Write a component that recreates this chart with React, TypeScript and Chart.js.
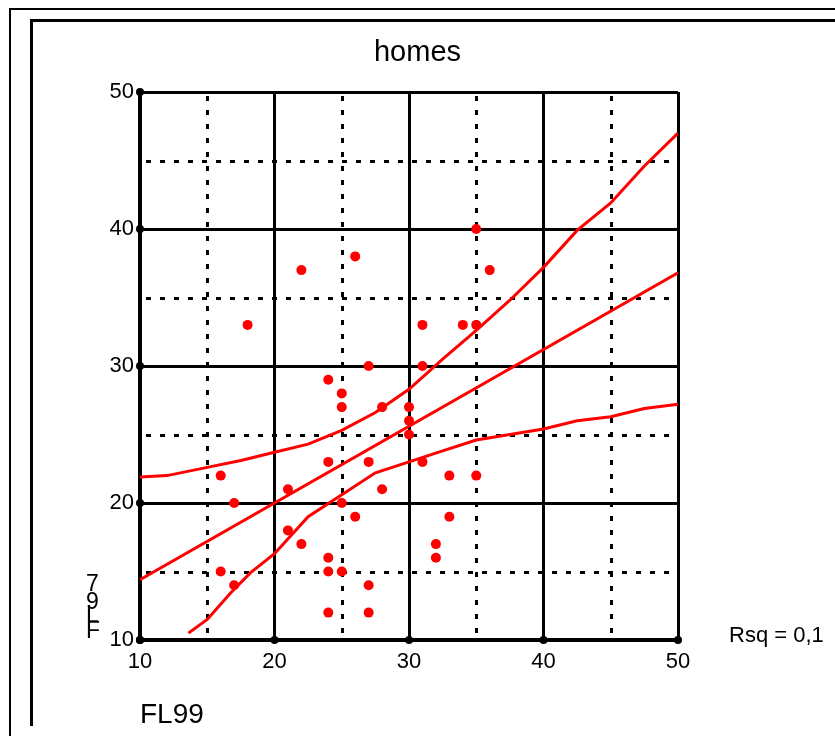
import React, { useEffect, useRef } from 'react';
import { Chart, registerables } from 'chart.js';

Chart.register(...registerables);

// ---- data ----
const chartTitle = 'homes';
const xTitle = 'FL99';
const yTitleChars = ['7', '9', 'L', 'F'];
const rsqText = 'Rsq = 0,1';

const fl99 = [35, 36, 22, 26, 18, 31, 34, 35, 27, 31, 24, 25, 25, 28, 30, 30, 30, 24, 27, 31, 33, 35, 16, 21, 28, 17, 25, 26, 33, 21, 22, 32, 32, 24, 24, 25, 16, 17, 27, 24, 27];
const fl97 = [40, 37, 37, 38, 33, 33, 33, 33, 30, 30, 29, 28, 27, 27, 27, 26, 25, 23, 23, 23, 22, 22, 22, 21, 21, 20, 20, 19, 19, 18, 17, 17, 16, 16, 15, 15, 15, 14, 14, 12, 12];

const fitX = [10, 50];
const fitY = [14.4, 36.8];

const upperX = [10, 12, 15, 17.5, 20, 22.5, 25, 27.5, 30, 32.5, 35, 37.5, 40, 42.5, 45, 47.5, 50];
const upperY = [21.9, 22.0, 22.6, 23.1, 23.7, 24.3, 25.3, 26.6, 28.3, 30.5, 32.6, 34.8, 37.2, 39.9, 41.9, 44.6, 47.0];

const lowerX = [13.6, 15, 16.7, 18.2, 20, 22.5, 25, 27.5, 30, 32.5, 35, 37.5, 40, 42.5, 45, 47.5, 50];
const lowerY = [10.5, 11.5, 13.4, 14.9, 16.3, 19.0, 20.6, 22.2, 23.0, 23.8, 24.6, 25.0, 25.4, 26.0, 26.3, 26.9, 27.2];

const majorTicks = [10, 20, 30, 40, 50];
const minorTicks = [15, 25, 35, 45];

const FONT = 'Liberation Sans, Arial, sans-serif';

const pairs = (xs: number[], ys: number[]) => xs.map((x, i) => ({ x, y: ys[i] }));

const decorPlugin = {
  id: 'decor',
  beforeDraw(chart: any) {
    const { ctx, width, height } = chart;
    ctx.save();
    ctx.fillStyle = '#fff';
    ctx.fillRect(0, 0, width, height);
    ctx.strokeStyle = '#000';
    ctx.lineWidth = 2;
    ctx.beginPath();
    ctx.moveTo(10, height + 5);
    ctx.lineTo(10, 9);
    ctx.lineTo(width + 5, 9);
    ctx.stroke();
    ctx.lineWidth = 3;
    ctx.beginPath();
    ctx.moveTo(31.5, 726);
    ctx.lineTo(31.5, 20.5);
    ctx.lineTo(width + 5, 20.5);
    ctx.stroke();
    ctx.restore();
  },
  beforeDatasetsDraw(chart: any) {
    const { ctx, chartArea, scales } = chart;
    const xs = scales.x, ys = scales.y;
    ctx.save();
    ctx.strokeStyle = '#000';
    ctx.lineWidth = 3;
    ctx.setLineDash([5, 9]);
    minorTicks.forEach((v) => {
      const px = Math.round(xs.getPixelForValue(v)) + 0.5;
      ctx.beginPath();
      ctx.moveTo(px, chartArea.top + 4);
      ctx.lineTo(px, chartArea.bottom);
      ctx.stroke();
      const py = Math.round(ys.getPixelForValue(v)) + 0.5;
      ctx.beginPath();
      ctx.moveTo(chartArea.left + 6, py);
      ctx.lineTo(chartArea.right, py);
      ctx.stroke();
    });
    ctx.restore();
  },
  afterDraw(chart: any) {
    const { ctx, chartArea, scales } = chart;
    const xs = scales.x, ys = scales.y;
    ctx.save();
    ctx.fillStyle = '#000';
    majorTicks.forEach((v) => {
      ctx.beginPath();
      ctx.arc(xs.getPixelForValue(v), chartArea.bottom, 4, 0, Math.PI * 2);
      ctx.fill();
      ctx.beginPath();
      ctx.arc(chartArea.left, ys.getPixelForValue(v), 4, 0, Math.PI * 2);
      ctx.fill();
    });
    ctx.font = `23px ${FONT}`;
    ctx.textAlign = 'left';
    ctx.textBaseline = 'alphabetic';
    const baselines = [591, 609, 622, 638];
    yTitleChars.forEach((c, i) => ctx.fillText(c, 86, baselines[i]));
    ctx.font = `22px ${FONT}`;
    ctx.textBaseline = 'middle';
    ctx.fillText(rsqText, 729, chartArea.bottom - 4);
    ctx.restore();
  },
};

export default function App() {
  const ref = useRef<HTMLCanvasElement>(null);
  useEffect(() => {
    document.body.style.margin = '0';
    const canvas = ref.current!;
    const chart = new Chart(canvas, {
      type: 'scatter',
      data: {
        datasets: [
          {
            label: 'upper',
            data: pairs(upperX, upperY),
            showLine: true,
            pointRadius: 0,
            borderColor: '#ff0000',
            borderWidth: 3,
            tension: 0,
          },
          {
            label: 'fit',
            data: pairs(fitX, fitY),
            showLine: true,
            pointRadius: 0,
            borderColor: '#ff0000',
            borderWidth: 3,
          },
          {
            label: 'lower',
            data: pairs(lowerX, lowerY),
            showLine: true,
            pointRadius: 0,
            borderColor: '#ff0000',
            borderWidth: 3,
            tension: 0,
          },
          {
            label: 'FL97',
            data: pairs(fl99, fl97),
            pointRadius: 5,
            pointBackgroundColor: '#ff0000',
            pointBorderWidth: 0,
            backgroundColor: '#ff0000',
          },
        ],
      },
      options: {
        responsive: false,
        animation: false,
        events: [],
        layout: { padding: { left: 0, right: 0, top: 0, bottom: 0 } },
        plugins: {
          legend: { display: false },
          tooltip: { enabled: false },
          title: {
            display: true,
            text: chartTitle,
            color: '#000',
            font: { family: FONT, size: 29, weight: 'normal' },
            padding: { top: 35.6, bottom: 21.6 },
          },
        },
        scales: {
          x: {
            type: 'linear',
            min: 10,
            max: 50,
            afterFit: (s: any) => { s.height = 96; },
            ticks: { stepSize: 10, color: '#000', font: { family: FONT, size: 22 }, padding: 9 },
            grid: { color: '#000', lineWidth: 3, drawTicks: false },
            border: { color: '#000', width: 4 },
            title: {
              display: true,
              text: xTitle,
              align: 'start',
              color: '#000',
              font: { family: FONT, size: 28 },
              padding: { top: 0, bottom: 4 },
            },
          },
          y: {
            type: 'linear',
            min: 10,
            max: 50,
            afterFit: (s: any) => { s.width = 140; },
            ticks: { stepSize: 10, color: '#000', font: { family: FONT, size: 22 }, padding: 6 },
            grid: { color: '#000', lineWidth: 3, drawTicks: false },
            border: { color: '#000', width: 4 },
          },
          yRight: {
            type: 'linear',
            position: 'right',
            min: 10,
            max: 50,
            afterFit: (s: any) => { s.width = 157; },
            ticks: { display: false },
            grid: { display: false, drawTicks: false },
            border: { display: false },
          },
        },
      },
      plugins: [decorPlugin],
    });
    return () => chart.destroy();
  }, []);
  return <canvas ref={ref} width={835} height={736} style={{ display: 'block' }} />;
}
